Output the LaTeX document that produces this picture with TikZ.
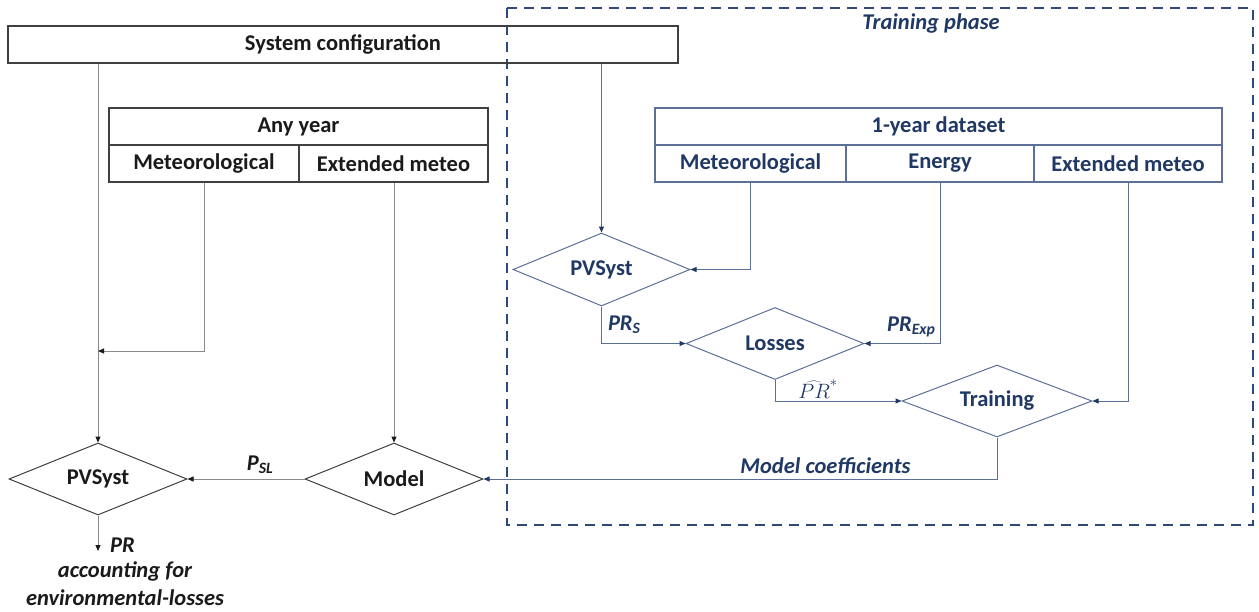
\documentclass[tikz,border=0pt]{standalone}
\usepackage{fontspec}
\setmainfont{Carlito}
\usetikzlibrary{shapes.geometric,arrows.meta}
\definecolor{bluetext}{HTML}{203864}
\definecolor{blueline}{HTML}{5C6F99}
\definecolor{bluedash}{HTML}{2F4A7A}
\definecolor{blacktext}{HTML}{1A1A1A}
\definecolor{grayline}{HTML}{8A8A8A}
\definecolor{boxline}{HTML}{404040}
\begin{document}
\begin{tikzpicture}[x=1pt,y=-1pt,
  every node/.style={font=\fontsize{22.5}{24}\selectfont\bfseries},
  cellL/.style={draw=boxline,line width=1.1pt,rectangle,inner sep=0pt,minimum height=37pt,text=blacktext},
  cellR/.style={draw=blueline,line width=1.1pt,rectangle,inner sep=0pt,minimum height=37pt,text=bluetext},
  diaL/.style={draw=boxline,line width=1pt,diamond,aspect=2.5,inner sep=0pt,minimum width=178pt,minimum height=72pt,text=blacktext},
  diaR/.style={draw=blueline,line width=1pt,diamond,aspect=2.5,inner sep=0pt,minimum width=178pt,minimum height=72pt,text=bluetext},
  connL/.style={draw=grayline,line width=1pt,-{Triangle[length=6pt,width=5pt,color=blacktext]}},
  connR/.style={draw=blueline,line width=1pt,-{Triangle[length=6pt,width=5pt,color=bluetext]}},
  lblR/.style={text=bluetext,font=\fontsize{22.5}{24}\selectfont\bfseries\itshape,inner sep=0pt},
  lblL/.style={text=blacktext,font=\fontsize{22.5}{24}\selectfont\bfseries\itshape,inner sep=0pt}]
\useasboundingbox (0,0) rectangle (1259,611);

% Training phase dashed frame
\draw[bluedash,line width=2.2pt,dash pattern=on 10pt off 7pt] (507,8) rectangle (1253,525);
\node[lblR] (tp) at (931,23) {Training phase};

% System configuration
\node[cellL,minimum width=670pt] (sys) at (343,44.5) {System configuration};

% Any year table
\node[cellL,minimum width=379pt] (any) at (298.5,126.5) {Any year};
\node[cellL,minimum width=190pt] (metL) at (204,163.5) {Meteorological};
\node[cellL,minimum width=189pt] (extL) at (393.5,163.5) {Extended meteo};

% 1-year dataset table
\node[cellR,minimum width=567pt] (one) at (938.5,126.5) {1-year dataset};
\node[cellR,minimum width=191pt] (metR) at (750.5,163.5) {Meteorological};
\node[cellR,minimum width=188pt] (energy) at (940,163.5) {Energy};
\node[cellR,minimum width=188pt] (extR) at (1128,163.5) {Extended meteo};

% Diamonds
\node[diaR,minimum width=177pt,minimum height=73pt] (pvR) at (601.5,269.5) {PVSyst};
\node[diaR] (loss) at (775,343.5) {Losses};
\node[diaR,minimum width=190pt] (train) at (997,401) {Training};
\node[diaL] (model) at (394,479) {Model};
\node[diaL] (pvL) at (98,479) {PVSyst};

% Left connectors
\coordinate (j1) at (98,351);
\draw[connL] (pvL.north |- sys.south) -- (pvL.north);
\draw[connL] (metL.south) |- (j1);
\draw[connL] (model.north |- extL.south) -- (model.north);
\draw[connL] (model.west) -- node[lblL,pos=0.38,above=5pt] (psl) {P\textsubscript{SL}} (pvL.east);
\coordinate (out) at (98,551);
\draw[connL] (pvL.south) -- (out);
\node[lblL,anchor=west] (pr) at (110,545) {PR};
\node[lblL] (acc) at (125,571) {accounting for};
\node[lblL] (env) at (125,598) {environmental-losses};

% Right connectors
\draw[connR] (pvR.north |- sys.south) -- (pvR.north);
\draw[connR] (metR.south) |- (pvR.east);
\draw[connR] (pvR.south) |- node[lblR,pos=0.25,right=6pt] (prs) {PR\textsubscript{S}} (loss.west);
\draw[connR] (energy.south) |- node[lblR,pos=0.69,above=6pt] (prexp) {PR\textsubscript{Exp}} (loss.east);
\draw[connR] (loss.south) |- node[pos=0.67,above=2pt,inner sep=0pt,text=bluetext,font=\fontsize{21}{23}\selectfont] (prhat) {$\widehat{PR}^{*}$} (train.west);
\draw[connR] (extR.south) |- (train.east);
\draw[connR] (train.south) |- node[lblR,pos=0.667,above=5pt] (coef) {Model coefficients} (model.east);
\end{tikzpicture}
\end{document}
